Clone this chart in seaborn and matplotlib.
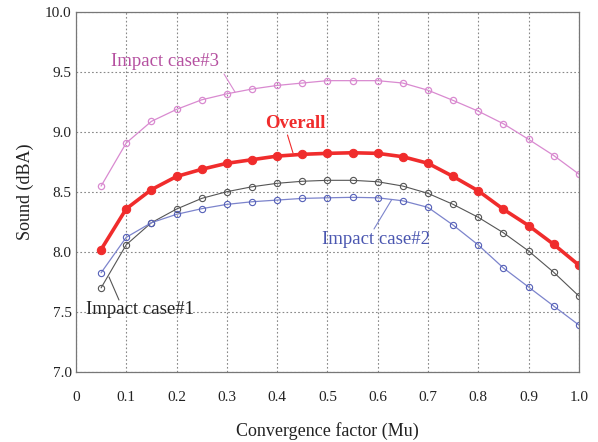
import numpy as np
import pandas as pd
import matplotlib
matplotlib.use("Agg")
import matplotlib.pyplot as plt
import seaborn as sns

mu = [0.05, 0.10, 0.15, 0.20, 0.25, 0.30, 0.35, 0.40, 0.45, 0.50,
      0.55, 0.60, 0.65, 0.70, 0.75, 0.80, 0.85, 0.90, 0.95, 1.00]
case3 = [8.55, 8.91, 9.09, 9.19, 9.27, 9.32, 9.36, 9.39, 9.41, 9.43,
         9.43, 9.43, 9.41, 9.35, 9.265, 9.175, 9.07, 8.94, 8.805, 8.65]
overall = [8.02, 8.36, 8.52, 8.63, 8.69, 8.74, 8.77, 8.80, 8.815, 8.823,
           8.828, 8.823, 8.795, 8.74, 8.63, 8.51, 8.356, 8.22, 8.063, 7.89]
case1 = [7.70, 8.06, 8.244, 8.358, 8.447, 8.503, 8.544, 8.573, 8.59, 8.598,
         8.598, 8.586, 8.55, 8.489, 8.397, 8.289, 8.16, 8.008, 7.83, 7.632]
case2 = [7.826, 8.122, 8.244, 8.314, 8.361, 8.397, 8.419, 8.433, 8.447, 8.452,
         8.456, 8.452, 8.427, 8.372, 8.224, 8.058, 7.866, 7.707, 7.548, 7.39]

x_ticks = [0, 0.1, 0.2, 0.3, 0.4, 0.5, 0.6, 0.7, 0.8, 0.9, 1.0]
x_labels = ["0", "0.1", "0.2", "0.3", "0.4", "0.5", "0.6", "0.7", "0.8", "0.9", "1.0"]
y_ticks = [7.0, 7.5, 8.0, 8.5, 9.0, 9.5, 10.0]

sns.set_style("white")
plt.rcParams['font.family'] = ['Liberation Serif', 'DejaVu Serif']

fig = plt.figure(figsize=(5.98, 4.42), dpi=100)
ax = fig.add_axes([0.127, 0.159, 0.841, 0.813])

pink_line = "#d98ad0"
pink_text = "#b550a0"
red = "#f02c2c"
gray = "#555555"
blue_line = "#7c84cc"
blue_text = "#4a56b0"

sns.lineplot(x=mu, y=case3, ax=ax, color=pink_line, lw=0.9, marker="o", ms=4.5,
             mfc="none", mec=pink_line, mew=0.9)
sns.lineplot(x=mu, y=case1, ax=ax, color=gray, lw=0.8, marker="o", ms=4.5,
             mfc="none", mec=gray, mew=0.8)
sns.lineplot(x=mu, y=case2, ax=ax, color=blue_line, lw=0.9, marker="o", ms=4.5,
             mfc="none", mec="#5560b8", mew=0.8)
sns.lineplot(x=mu, y=overall, ax=ax, color=red, lw=2.6, marker="o", ms=6,
             mfc=red, mec=red)

ax.set_xlim(0, 1.0)
ax.set_ylim(7.0, 10.0)
ax.set_xticks(x_ticks)
ax.set_xticklabels(x_labels)
ax.set_yticks(y_ticks)
ax.set_yticklabels([f"{v:.1f}" for v in y_ticks])
ax.tick_params(axis="both", length=0, labelsize=11, colors="#222222")
ax.tick_params(axis="x", pad=14)
ax.tick_params(axis="y", pad=3)
ax.grid(True, linestyle=(0, (1.5, 2)), color="#888888", lw=0.8)
for s in ax.spines.values():
    s.set_color("#777777")
    s.set_linewidth(0.9)

ax.set_xlabel("Convergence factor (Mu)", fontsize=13, labelpad=13, color="#222222")
ax.set_ylabel("Sound (dBA)", fontsize=13, labelpad=8, color="#222222")

def px(xp, yp):
    return fig.transFigure.inverted().transform((xp, 442 - yp))

def annot(text, xy_px, line_px, color, lc, weight="normal"):
    p1 = px(*line_px[0]); p2 = px(*line_px[1])
    fig.add_artist(plt.Line2D([p1[0], p2[0]], [p1[1], p2[1]], color=lc, lw=0.8,
                              transform=fig.transFigure))
    t = px(*xy_px)
    fig.text(t[0], t[1], text, color=color, fontsize=13.5, ha="left", va="center",
             fontweight=weight)

annot("Impact case#3", (111, 61), ((224, 74), (235, 92)), pink_text, pink_line)
annot("Overall", (265, 124), ((287.5, 135), (293, 153)), red, red, weight="bold")
annot("Impact case#1", (86, 310), ((109, 277), (119, 300)), "#222222", gray)
annot("Impact case#2", (322, 240), ((374, 229), (391.5, 200)), blue_text, blue_line)

fig.savefig("out.png", dpi=100)
